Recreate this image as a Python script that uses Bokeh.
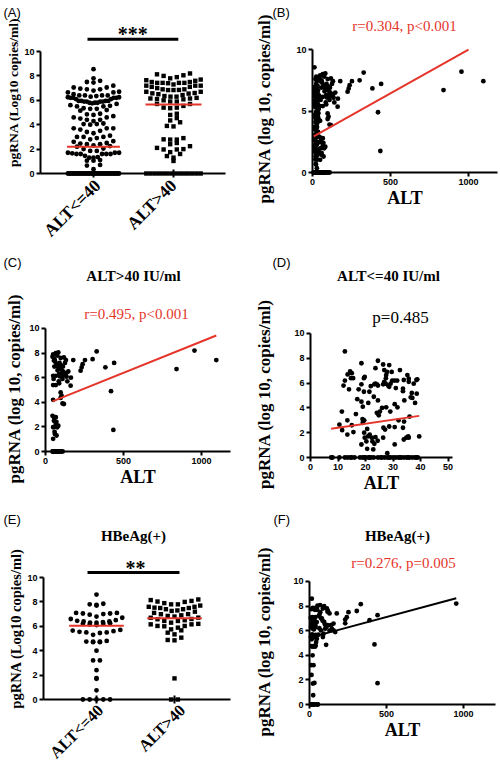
import math
import numpy as np
from bokeh.plotting import figure
from bokeh.layouts import column, row
from bokeh.models import Range1d, FixedTicker
from bokeh.core.properties import value
from bokeh.embed import file_html
from bokeh.resources import INLINE

# ---------------- data ----------------
groups = ["ALT<=40", "ALT>40"]
group_pos = [1, 2]

# ALT <= 40 IU/ml patients (ALT, pgRNA)
lo_alt = [12.5, 10.5, 11.4, 11.5, 13.4, 13.4, 12.5, 13.5, 14.4, 15, 15.5, 14.7, 15.6, 16.5, 17.5, 18.5, 18.5,
          18.5, 19.4, 19.7, 19.4, 18.9, 19.5, 19, 18.5, 19.5, 19.7, 20.6, 20.3, 20.9, 21.5, 21.4, 20.6, 22.3,
          22.5, 23.2, 22.8, 21.9, 23.2, 23.6, 24.1, 24.5, 23.6, 24.5, 24.5, 24.1, 24.8, 25.2, 24.4, 23.6, 26.4,
          26.5, 27.1, 27.5, 26.4, 26.8, 27.3, 27.4, 27.5, 26.8, 26.4, 27.8, 28.2, 28.6, 28.6, 27.9, 28.6, 29.1,
          29.5, 29.7, 30.6, 31.5, 30.6, 31.6, 30.6, 30.6, 32.5, 33.9, 33.6, 33.6, 34.1, 33.6, 33.9, 34.8, 35.5,
          35.7, 35.2, 35.7, 36.4, 36.8, 37.5, 38.5, 38.8, 38.6, 39.5, 37, 35.7,
          14, 17, 21, 26, 29, 32, 15, 36, 23, 31, 19, 34, 12, 38,
          7.5, 8, 10.5, 12.5, 13.5, 14.5, 15, 18, 19, 19.5, 20, 21, 21.5, 22, 23, 24.5, 25.5, 26, 27, 28, 28.5,
          29, 30, 31, 32, 32.5, 33, 34, 35, 35.5, 36, 37, 38, 38.5, 39, 16]
lo_rna = [8.55, 2.65, 3.7, 2.2, 3.0, 1.85, 6.2, 6.7, 6.95, 6.8, 6.4, 6.4, 2.05, 3.5, 5.5, 7.6, 5.9,
          4.5, 6.4, 6.5, 5.3, 3.1, 3.0, 2.8, 1.05, 2.0, 1.6, 2.3, 1.3, 1.7, 1.85, 5.3, 0.7, 1.6,
          1.3, 1.1, 0.65, 5.75, 5.9, 5.95, 5.9, 5.8, 7.2, 7.8, 4.6, 3.6, 3.4, 3.7, 1.35, 1.65, 1.6,
          2.4, 2.25, 4.05, 5.9, 6.1, 5.95, 6.4, 6.65, 7.05, 7.5, 6.9, 5.8, 7.45, 5.7, 0.35, 2.5, 5.95,
          6.9, 6.2, 6.2, 6.2, 4.3, 4.05, 1.05, 2.45, 7.05, 6.25, 5.55, 5.35, 4.6, 2.4, 1.45, 1.6, 1.7,
          6.35, 6.65, 6.1, 4.85, 5.2, 5.95, 6.25, 6.3, 5.15, 1.7, 4.8, 1.6,
          5.5, 4.7, 4.4, 4.0, 3.7, 3.0, 2.6, 3.3, 4.9, 5.6, 4.1, 2.9, 5.8, 4.4,
          0, 0, 0, 0, 0, 0, 0, 0, 0, 0, 0, 0, 0, 0, 0, 0, 0, 0, 0, 0, 0,
          0, 0, 0, 0, 0, 0, 0, 0, 0, 0, 0, 0, 0, 0, 0]

# ALT > 40 IU/ml patients (ALT, pgRNA)
hi_alt = [955, 1095, 840, 440, 420, 435, 384, 328, 302, 253, 238, 232, 225, 178, 163, 161,
          49, 66, 82, 54, 71, 82, 97, 109, 118, 131, 97, 49, 66, 88, 103, 118, 135, 131, 109, 88,
          49, 66, 146, 97, 103, 97, 109, 118, 49, 54, 66, 54, 66, 49, 60, 75, 71, 49, 60,
          45, 58, 62, 75, 90, 100, 112, 125, 57, 77, 92, 115, 140, 52, 85, 45, 70, 58, 82, 64,
          45, 50, 55, 60, 65, 70, 75, 80, 90, 100, 110, 48, 68, 85]
hi_rna = [8.2, 7.43, 6.7, 7.2, 4.9, 1.75, 6.84, 8.13, 7.5, 7.43, 7.1, 6.84, 6.57, 7.43, 6.0, 5.35,
          7.9, 8.0, 8.05, 7.4, 7.1, 6.85, 6.7, 6.55, 7.65, 7.43, 7.6, 6.15, 6.15, 6.3, 6.3, 6.43, 6.08, 6.35, 5.9, 5.54,
          5.4, 5.4, 6.5, 4.8, 4.54, 4.35, 3.9, 3.86, 4.2, 2.78, 2.78, 2.5, 2.24, 1.97, 2.0, 1.97, 1.3, 1.03, 1.43,
          7.7, 7.5, 7.3, 7.8, 7.2, 7.0, 6.9, 7.2, 6.9, 6.6, 6.1, 6.2, 5.7, 5.9, 5.7, 2.9, 2.4, 1.6, 2.1, 2.8,
          0, 0, 0, 0, 0, 0, 0, 0, 0, 0, 0, 0, 0, 0]

# HBeAg(+) patients (ALT, pgRNA)
hb_alt = [953, 442, 390, 333, 307, 253, 242, 232, 232, 177, 156, 422, 442,
          69, 87, 117, 130, 113, 80, 95, 117, 139, 145, 167, 102, 74, 91, 87, 58, 108, 48, 130, 156, 65, 52, 43,
          45, 50, 60, 75, 85, 100, 110, 120, 64, 70, 95, 47, 48, 55,
          15, 22, 30, 12, 35, 8, 18, 26, 38, 33, 14,
          10, 16, 20, 24, 28, 32, 36, 11, 19, 27, 34, 39, 13, 23, 31,
          17, 9, 21, 25, 29, 37, 40, 14,
          12, 18, 24, 30, 36, 40,
          20, 11, 26, 13, 22, 32, 24,
          10, 16, 21, 27, 33]
hb_rna = [8.2, 7.26, 6.85, 8.15, 7.6, 7.5, 7.1, 6.9, 6.6, 7.4, 6.03, 4.88, 1.73,
          8.08, 7.8, 7.53, 7.4, 7.8, 6.99, 6.71, 6.44, 6.44, 6.16, 5.89, 6.16, 6.03, 5.75, 5.48, 5.67, 4.85, 5.34, 6.0, 6.58, 7.3, 8.03, 5.07,
          7.9, 7.7, 7.2, 7.0, 6.8, 6.5, 6.3, 7.6, 6.2, 7.5, 8.0, 6.7, 0, 0,
          8.6, 7.85, 7.8, 7.75, 7.7, 7.05, 7.1, 7.05, 7.1, 7.0, 6.95,
          6.3, 6.25, 6.2, 6.15, 6.1, 6.2, 6.3, 6.4, 6.45, 6.35, 6.5, 6.4, 6.6, 6.7, 6.8,
          5.7, 5.5, 5.55, 5.5, 5.45, 5.6, 5.65, 5.3,
          4.75, 4.7, 4.75, 4.75, 4.7, 4.8,
          4.0, 3.2, 3.2, 2.4, 1.7, 1.75, 0.75,
          0, 0, 0, 0, 0]

alt_cut = 40
medians_A = [2.2, 5.65]
medians_E = [6.05, 6.65]
fit_B = [2.89, 0.00711]   # intercept, slope
fit_C = [3.85, 0.00509]
fit_D = [2.08, 0.0323]
fit_F = [5.43, 0.00336]
stat_B = "r=0.304, p<0.001"
stat_C = "r=0.495, p<0.001"
stat_D = "p=0.485"
stat_F = "r=0.276, p=0.005"
title_C = "ALT>40 IU/ml"
title_D = "ALT<=40 IU/ml"
title_EF = "HBeAg(+)"
sig_A = "***"
sig_E = "**"
ylab_col = "pgRNA (Log10 copies/ml)"
ylab_sc = "pgRNA (log 10, copies/ml)"
xlab = "ALT"
y_ticks = [0, 2, 4, 6, 8, 10]
y_ticks_B = [0, 5, 10]
x_ticks_alt = [0, 500, 1000]
x_ticks_D = [0, 10, 20, 30, 40, 50]

RED = "#e5352b"
SERIF = "Liberation Serif"
SANS = "Liberation Sans"
TOP = "overlay"   # drawn above the axes and not clipped to the frame


def swarm(vals, center, bin_h, step, half):
    vals = np.asarray(vals, float)
    idx = np.round(vals / bin_h).astype(int)
    xs = np.zeros(len(vals))
    for b in np.unique(idx):
        members = np.where(idx == b)[0]
        members = members[np.argsort(vals[members], kind="stable")]
        n = len(members)
        sp = step if n <= 1 else min(step, 2 * half / (n - 1))
        slots = (np.arange(n) - (n - 1) / 2) * sp
        order = np.argsort(np.abs(slots), kind="stable")
        for m, s in zip(members, slots[order]):
            xs[m] = center + s
    return xs


def base(width, height, left, right, top, bottom, xr, yr):
    p = figure(width=width, height=height, x_range=Range1d(*xr), y_range=Range1d(*yr),
               output_backend="svg", toolbar_location=None, frame_align=False,
               min_border_left=left, min_border_right=right,
               min_border_top=top, min_border_bottom=bottom)
    p.title.visible = False
    p.title.standoff = 0
    p.xgrid.visible = False
    p.ygrid.visible = False
    p.outline_line_color = None
    for ax in (p.xaxis[0], p.yaxis[0]):
        ax.axis_line_width = 2
        ax.axis_line_color = "black"
        ax.major_tick_line_width = 2
        ax.major_tick_out = 4
        ax.major_tick_in = 0
        ax.minor_tick_line_color = None
        ax.major_label_text_font = SANS
        ax.major_label_text_font_style = "bold"
        ax.major_label_text_font_size = "9px"
        ax.major_label_text_color = "black"
        ax.major_label_standoff = 2
        ax.axis_label_text_font = SERIF
        ax.axis_label_text_font_style = "bold"
        ax.axis_label_text_color = "black"
        ax.axis_label_standoff = 0
    p.yaxis.bounds = (0, 10)
    return p


def note(p, text, dx, dy, size, style="normal", font=SERIF, color="black", align="center"):
    # text placed at a pixel offset from the frame's top-left corner
    p.text(x=[p.x_range.start], y=[p.y_range.end], text=[text], x_offset=dx, y_offset=dy,
           text_font=value(font), text_font_size=size, text_font_style=style,
           text_color=color, text_align=align, text_baseline="middle", level=TOP)


def letter(p, text, dx, dy):
    note(p, text, dx, dy, "13px", font=SANS, align="left")


def ylabel(p, text, size, standoff):
    p.yaxis.axis_label = text
    p.yaxis.axis_label_text_font_size = size
    p.yaxis.axis_label_standoff = standoff


def xlabel(p, text, size="18px"):
    p.xaxis.axis_label = text
    p.xaxis.axis_label_text_font_size = size


def cat_axis(p, dxs, dy, size):
    ax = p.xaxis[0]
    ax.ticker = FixedTicker(ticks=[])
    ax.major_tick_out = 0
    # short category ticks on the axis line
    p.scatter(x=group_pos, y=[0, 0], marker="dash", angle=math.pi / 2, size=8,
              line_color="black", line_width=2, level=TOP)
    p.text(x=group_pos, y=[0, 0], text=groups, angle=math.pi / 4, x_offset=dxs, y_offset=dy,
           text_font=value(SERIF), text_font_style="bold", text_font_size=size,
           text_align="right", text_baseline="middle", text_color="black", level=TOP)


def fit_line(p, alts, fit, color):
    b, m = fit
    x0 = min(alts)
    x1 = min(max(alts), (10 - b) / m)
    p.line([x0, x1], [b + m * x0, b + m * x1], line_color=color, line_width=2, level=TOP)


def dots(p, x, y, marker="circle", size=4.8):
    p.scatter(x, y, marker=marker, size=size, fill_color="black", line_color=None, level=TOP)


# ---------------- (A) ----------------
pA = base(250, 250, 40, 25, 11, 77, (0.3375, 2.65), (0, 13.28))
pA.yaxis.ticker = FixedTicker(ticks=y_ticks)
ylabel(pA, ylab_col, "13.5px", 0)
cat_axis(pA, [4, 0], 9, "17.5px")
dots(pA, swarm(lo_rna, group_pos[0], 0.5, 6.6 / 80, 0.32), lo_rna)
dots(pA, swarm(hi_rna, group_pos[1], 0.5, 6.6 / 80, 0.34), hi_rna, "square", 4.4)
pA.segment(x0=[1 - 0.33, 2 - 0.35], x1=[1 + 0.33, 2 + 0.35], y0=medians_A, y1=medians_A,
           line_color=RED, line_width=2, level=TOP)
pA.segment(x0=[0.925], x1=[2.06], y0=[11.0], y1=[11.0], line_color="black", line_width=3)
pA.text(x=[1.49], y=[11.41], text=[sig_A], text_font=value(SERIF), text_font_style="bold",
        text_font_size="20px", text_align="center", text_baseline="middle", level=TOP)
letter(pA, "(A)", -37, 0.5)

# ---------------- (B) ----------------
all_alt = lo_alt + hi_alt
all_rna = lo_rna + hi_rna
pB = base(250, 250, 62, 3, 44, 78, (0, 1186), (0, 10.41))
pB.yaxis.ticker = FixedTicker(ticks=y_ticks_B)
pB.xaxis.ticker = FixedTicker(ticks=x_ticks_alt)
ylabel(pB, ylab_sc, "17px", 19)
xlabel(pB, xlab)
dots(pB, all_alt, all_rna)
fit_line(pB, all_alt, fit_B, RED)
note(pB, stat_B, 92, -19, "15px", color=RED)
letter(pB, "(B)", -40, -32.5)

# ---------------- (C) ----------------
pC = base(250, 260, 45, 20, 75, 59, (0, 1186), (0, 10.24))
pC.yaxis.ticker = FixedTicker(ticks=y_ticks)
pC.xaxis.ticker = FixedTicker(ticks=x_ticks_alt)
ylabel(pC, ylab_sc, "17px", 2)
xlabel(pC, xlab)
dots(pC, hi_alt, hi_rna)
fit_line(pC, hi_alt, fit_C, RED)
note(pC, stat_C, 91, -12, "15px", color=RED)
note(pC, title_C, 88, -50, "15px", style="bold")
letter(pC, "(C)", -42, -63.5)

# ---------------- (D) ----------------
pD = base(250, 260, 60, 48, 80, 53, (0, 51.6), (0, 10.24))
pD.yaxis.ticker = FixedTicker(ticks=y_ticks)
pD.xaxis.ticker = FixedTicker(ticks=x_ticks_D)
ylabel(pD, ylab_sc, "17px", 17)
xlabel(pD, xlab)
dots(pD, lo_alt, lo_rna)
fit_line(pD, lo_alt, fit_D, RED)
note(pD, stat_D, 90, -13, "17px")
note(pD, title_D, 78, -55, "15px", style="bold")
letter(pD, "(D)", -38, -68.5)

# ---------------- (E) ----------------
hb_lo = [v for a, v in zip(hb_alt, hb_rna) if a <= alt_cut]
hb_hi = [v for a, v in zip(hb_alt, hb_rna) if a > alt_cut]
pE = base(250, 255, 43, 20, 47, 66, (0.3205, 2.718), (0, 11.64))
pE.yaxis.ticker = FixedTicker(ticks=y_ticks)
ylabel(pE, ylab_col, "14.5px", 0)
cat_axis(pE, [4, 8], 8, "16.5px")
dots(pE, swarm(hb_lo, group_pos[0], 0.5, 6.8 / 78, 0.33), hb_lo)
dots(pE, swarm(hb_hi, group_pos[1], 0.5, 6.8 / 78, 0.33), hb_hi, "square", 4.4)
pE.segment(x0=[1 - 0.35, 2 - 0.35], x1=[1 + 0.35, 2 + 0.35], y0=medians_E, y1=medians_E,
           line_color=RED, line_width=2, level=TOP)
pE.segment(x0=[0.885], x1=[2.064], y0=[10.41], y1=[10.41], line_color="black", line_width=3)
pE.text(x=[1.5], y=[10.82], text=[sig_E], text_font=value(SERIF), text_font_style="bold",
        text_font_size="20px", text_align="center", text_baseline="middle", level=TOP)
note(pE, title_EF, 90, -22, "15px", style="bold")
letter(pE, "(E)", -40, -38)

# ---------------- (F) ----------------
pF = base(250, 255, 59, 5, 68, 61, (0, 1208), (0, 10.24))
pF.yaxis.ticker = FixedTicker(ticks=y_ticks)
pF.xaxis.ticker = FixedTicker(ticks=x_ticks_alt)
ylabel(pF, ylab_sc, "17px", 16)
xlabel(pF, xlab)
dots(pF, hb_alt, hb_rna)
fit_line(pF, hb_alt, fit_F, "black")
note(pF, stat_F, 94, -16, "15px", color=RED)
note(pF, title_EF, 88, -43, "15px", style="bold")
letter(pF, "(F)", -36, -59)

layout = column(row(pA, pB), row(pC, pD), row(pE, pF))
open("out.html", "w").write(file_html(layout, INLINE))
